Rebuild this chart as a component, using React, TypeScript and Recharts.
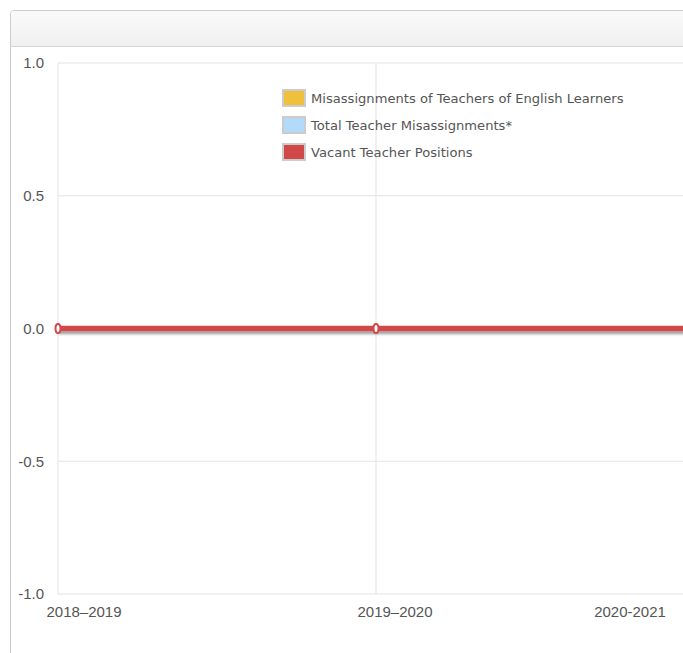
import React from 'react';
import { LineChart, Line, XAxis, YAxis, CartesianGrid } from 'recharts';

const years = ['2018–2019', '2019–2020', '2020-2021'];
const englishLearnerMisassignments = [0, 0, 0];
const totalMisassignments = [0, 0, 0];
const vacantPositions = [0, 0, 0];
const yTicks = [-1, -0.5, 0, 0.5, 1];

const series = [
  { key: 'el', name: 'Misassignments of Teachers of English Learners', color: '#f0c03c', values: englishLearnerMisassignments },
  { key: 'total', name: 'Total Teacher Misassignments*', color: '#b3daf8', values: totalMisassignments },
  { key: 'vacant', name: 'Vacant Teacher Positions', color: '#d04848', values: vacantPositions },
];

const data = years.map((year, i) => {
  const row: Record<string, string | number> = { year };
  series.forEach((s) => {
    row[s.key] = s.values[i];
  });
  return row;
});

const LABEL_HALF = 37;
const XTick = (props: any) => {
  const { x, y, payload } = props;
  let cx = x + 19;
  if (cx - LABEL_HALF < 36) cx = 36 + LABEL_HALF;
  if (cx + LABEL_HALF > 656) cx = 656 - LABEL_HALF;
  return (
    <text x={cx} y={y} dy="0.71em" textAnchor="middle" fill="#555" fontSize={15} fontFamily="'Liberation Sans', Arial, sans-serif">
      {payload.value}
    </text>
  );
};

const Dot = (props: any) => {
  const { cx, cy, index } = props;
  if (cx == null || cy == null) return null;
  return <ellipse key={`d${index}`} cx={cx} cy={cy} rx={2.5} ry={4.5} fill="#fff" stroke="#d04848" strokeWidth={2} />;
};

export default function App() {
  return (
    <div style={{ position: 'fixed', left: 0, top: 0, width: 683, height: 653, overflow: 'hidden', background: '#fff' }}>
      <div
        style={{
          position: 'absolute',
          left: 10,
          top: 10,
          width: 760,
          height: 720,
          border: '1px solid #cccccc',
          borderRadius: 4,
          boxSizing: 'border-box',
          overflow: 'hidden',
        }}
      >
        <div
          style={{
            height: 35,
            background: 'linear-gradient(#fafafa, #f0f0f0)',
            borderBottom: '1px solid #d6d6d6',
          }}
        />
        <LineChart width={690} height={590} data={data} margin={{ top: 16, right: 7, bottom: 0, left: 0 }}>
          <defs>
            <filter id="lineShadow" filterUnits="userSpaceOnUse" x={0} y={0} width={800} height={700}>
              <feDropShadow dx={1} dy={3} stdDeviation={1.2} floodColor="#000" floodOpacity={0.35} />
            </filter>
          </defs>
          <CartesianGrid stroke="#e3e3e3" />
          <XAxis
            dataKey="year"
            axisLine={false}
            tickLine={false}
            tickSize={0}
            tickMargin={12}
            height={43}
            interval={0}
            tick={<XTick />}
          />
          <YAxis
            domain={[-1, 1]}
            ticks={yTicks}
            width={47}
            axisLine={false}
            tickLine={false}
            tickSize={0}
            tickMargin={14}
            tickFormatter={(v: number) => v.toFixed(1)}
            tick={{ fill: '#555', fontSize: 15, fontFamily: "'Liberation Sans', Arial, sans-serif" }}
          />
          <Line dataKey="el" name={series[0].name} stroke={series[0].color} strokeWidth={5} dot={false} isAnimationActive={false} />
          <Line dataKey="total" name={series[1].name} stroke={series[1].color} strokeWidth={5} dot={false} isAnimationActive={false} />
          <Line
            dataKey="vacant"
            name={series[2].name}
            stroke={series[2].color}
            strokeWidth={5.5}
            dot={<Dot />}
            activeDot={false}
            filter="url(#lineShadow)"
            isAnimationActive={false}
          />
        </LineChart>
      </div>
      <div style={{ position: 'absolute', left: 282, top: 89, fontFamily: "'DejaVu Sans', Verdana, sans-serif", fontSize: 13.1, color: '#555' }}>
        {series.map((s) => (
          <div key={s.key} style={{ display: 'flex', alignItems: 'center', height: 18, marginBottom: 9 }}>
            <div style={{ width: 20, height: 14, background: s.color, border: '2px solid #cccccc', marginRight: 5 }} />
            <span style={{ whiteSpace: 'nowrap' }}>{s.name}</span>
          </div>
        ))}
      </div>
    </div>
  );
}
